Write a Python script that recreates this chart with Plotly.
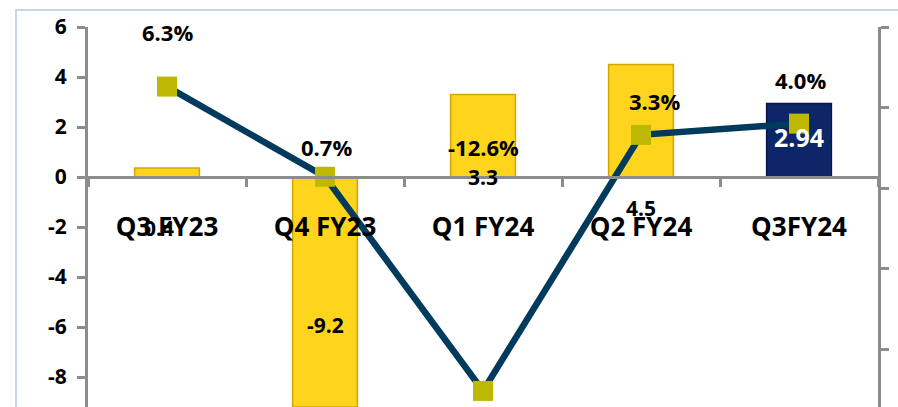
import plotly.graph_objects as go

categories = ["Q3 FY23", "Q4 FY23", "Q1 FY24", "Q2 FY24", "Q3FY24"]
bar_values = [0.36, -9.2, 3.3, 4.5, 2.94]
bar_labels = ["0.4", "-9.2", "3.3", "4.5", "2.94"]
growth_values = [6.3, 0.7, -12.6, 3.3, 4.0]
growth_labels = ["6.3%", "0.7%", "-12.6%", "3.3%", "4.0%"]
left_tick_vals = [-8, -6, -4, -2, 0, 2, 4, 6]
left_tick_text = ["-8", "-6", "-4", "-2", "0", "2", "4", "6"]

# label placement (manual, as in the original chart)
bar_label_pos = [-2.04, -5.92, 0.0, -1.24, 1.6]
bar_label_xshift = [-8, 0, 0, 0, 0]
pct_label_pos = [9.7, 2.52, 2.52, 5.43, 6.70]
pct_label_xshift = [0, 1, 0, 13, 1]

GOLD = "#FFD41C"
GOLD_EDGE = "#D4A600"
NAVY = "#0C2668"
NAVY_EDGE = "#06184A"
LINE = "#003A5C"
MARK = "#BDB800"
GREY = "#8C8C8C"
FONT = "Open Sans"

bar_colors = [GOLD, GOLD, GOLD, GOLD, NAVY]
bar_edges = [GOLD_EDGE, GOLD_EDGE, GOLD_EDGE, GOLD_EDGE, NAVY_EDGE]

fig = go.Figure()
fig.add_trace(go.Bar(
    x=categories, y=bar_values, width=0.41,
    marker=dict(color=bar_colors, line=dict(color=bar_edges, width=1.5)),
    yaxis="y", hoverinfo="skip", showlegend=False,
))
fig.add_trace(go.Scatter(
    x=categories, y=growth_values, yaxis="y2", mode="lines+markers",
    line=dict(color=LINE, width=6.5),
    marker=dict(symbol="square", size=20, color=MARK),
    showlegend=False, cliponaxis=False,
))

annotations = []
for i, c in enumerate(categories):
    annotations.append(dict(
        x=c, y=bar_label_pos[i], xref="x", yref="y", text=bar_labels[i],
        showarrow=False, xshift=bar_label_xshift[i],
        font=dict(family=FONT, size=(25 if i == 4 else 21), weight="bold",
                  color=("white" if i == 4 else "black")),
    ))
    annotations.append(dict(
        x=c, y=pct_label_pos[i], xref="x", yref="y2", text=growth_labels[i],
        showarrow=False, xshift=pct_label_xshift[i],
        font=dict(family=FONT, size=22, weight="bold", color="black"),
    ))

fig.update_layout(
    width=898, height=407,
    margin=dict(l=88, r=20, t=27, b=0),
    paper_bgcolor="white", plot_bgcolor="white",
    annotations=annotations,
    xaxis=dict(
        anchor="free", position=230 / 380,
        showline=True, linecolor=GREY, linewidth=3,
        ticks="outside", tickson="boundaries", ticklen=8, tickwidth=3, tickcolor=GREY,
        tickfont=dict(family=FONT, size=26, weight="bold", color="black"),
        ticklabelstandoff=26,
        showgrid=False, zeroline=False, fixedrange=True,
    ),
    yaxis=dict(
        range=[-9.2, 6], tickvals=left_tick_vals, ticktext=left_tick_text,
        showline=True, linecolor=GREY, linewidth=3,
        ticks="outside", ticklen=8, tickwidth=3, tickcolor=GREY,
        tickfont=dict(family=FONT, size=21, weight="bold", color="black"),
        ticklabelstandoff=6,
        showgrid=False, zeroline=False,
    ),
    yaxis2=dict(
        range=[-13.6, 10], dtick=5, tick0=0, overlaying="y", side="right",
        showline=True, linecolor=GREY, linewidth=3,
        ticks="outside", ticklen=8, tickwidth=3, tickcolor=GREY,
        showticklabels=False, showgrid=False, zeroline=False,
    ),
    shapes=[dict(
        type="rect", xref="paper", yref="paper",
        x0=(16 - 88) / 790, x1=1.2, y0=-0.2, y1=1 + (27 - 10) / 380,
        line=dict(color="#C9D5E8", width=2), fillcolor="rgba(0,0,0,0)", layer="below",
    )],
)

fig.write_html(
    "out.html",
    config={"displayModeBar": False, "staticPlot": True},
    post_script="document.body.style.margin='0';document.body.style.overflow='hidden';",
)
